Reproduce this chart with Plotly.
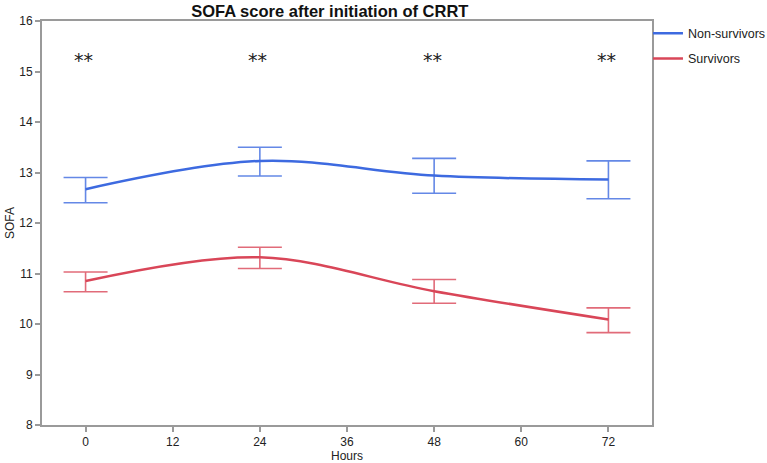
import plotly.graph_objects as go

hours = [0, 24, 48, 72]
tick_vals = [0, 12, 24, 36, 48, 60, 72]
non_surv = [12.67, 13.23, 12.94, 12.86]
non_surv_hi = [12.90, 13.50, 13.28, 13.23]
non_surv_lo = [12.40, 12.93, 12.59, 12.48]
surv = [10.85, 11.32, 10.65, 10.09]
surv_hi = [11.03, 11.52, 10.88, 10.32]
surv_lo = [10.64, 11.10, 10.41, 9.83]
sig_labels = ["**", "**", "**", "**"]
sig_y = 15.22

blue = "#3d6ae0"
red = "#d94658"

fig = go.Figure()

def add_series(name, y, hi, lo, color, errcolor):
    fig.add_trace(go.Scatter(
        x=hours, y=y, name=name, mode="lines", legendgroup=name,
        line=dict(color=color, width=2.5, shape="spline", smoothing=1.0),
        error_y=dict(type="data", symmetric=False,
                     array=[h - v for h, v in zip(hi, y)],
                     arrayminus=[v - l for v, l in zip(y, lo)],
                     color=errcolor, thickness=1.6, width=22),
    ))

add_series("Non-survivors", non_surv, non_surv_hi, non_surv_lo, blue, "rgba(61,106,224,0.8)")
add_series("Survivors", surv, surv_hi, surv_lo, red, "rgba(217,70,88,0.8)")

for xv, lab in zip(hours, sig_labels):
    fig.add_annotation(x=xv, y=sig_y, text=lab, showarrow=False, xshift=-2,
                       font=dict(size=19, color="#222", family="DejaVu Sans"),
                       xanchor="center", yanchor="middle")

axis_common = dict(showline=True, linecolor="#9a9a9a", linewidth=2, mirror=True,
                   ticks="outside", ticklen=5, tickcolor="#9a9a9a", tickwidth=1.5,
                   showgrid=False, zeroline=False, automargin=False,
                   tickfont=dict(size=12, color="#222"))

fig.update_layout(
    width=767, height=463,
    margin=dict(l=42, r=115, t=21, b=38, autoexpand=False),
    paper_bgcolor="white", plot_bgcolor="white",
    font=dict(family="Liberation Sans, Arial, sans-serif", color="#222"),
    title=dict(text="<b>SOFA score after initiation of CRRT</b>", x=0.43,
               xanchor="center", y=0.976, yanchor="middle", font=dict(size=16.5, color="#111")),
    xaxis=dict(range=[-6, 78], tickvals=tick_vals,
               title=dict(text="Hours", font=dict(size=12), standoff=2), **axis_common),
    yaxis=dict(range=[8, 16], dtick=1,
               title=dict(text="SOFA", font=dict(size=12), standoff=2), **axis_common),
    legend=dict(x=0.9934, y=1.006, xanchor="left", yanchor="top",
                font=dict(size=12.5, color="#222"), bgcolor="rgba(0,0,0,0)",
                itemwidth=30, tracegroupgap=6, traceorder="grouped"),
    showlegend=True,
)

fig.write_html("out.html", config={"displayModeBar": False},
               post_script="document.body.style.margin='0';document.body.style.overflow='hidden';")
